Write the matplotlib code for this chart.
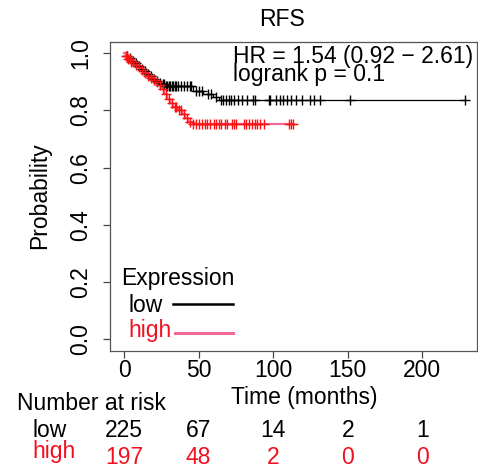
import matplotlib
matplotlib.use("Agg")
import matplotlib.pyplot as plt
import numpy as np
from matplotlib.lines import Line2D
from matplotlib.transforms import blended_transform_factory

plt.rcParams["font.family"] = ["Liberation Sans", "DejaVu Sans"]

# Kaplan-Meier steps
low_times = [0, 1, 3, 5, 7, 9, 11, 13, 15, 17, 19, 21, 23, 25, 28, 46, 53, 60, 64]
low_surv = [1.0, 0.991, 0.982, 0.973, 0.964, 0.955, 0.946, 0.937, 0.928, 0.919,
            0.910, 0.902, 0.897, 0.892, 0.884, 0.867, 0.856, 0.846, 0.835]
low_end = 228.7

high_times = [0, 1, 3, 5, 7, 9, 11, 13, 15, 17, 19, 21, 23, 25, 27, 29, 31, 33,
              36, 39, 41, 43, 46]
high_surv = [1.0, 0.990, 0.980, 0.970, 0.960, 0.950, 0.940, 0.930, 0.920, 0.912,
             0.905, 0.898, 0.890, 0.875, 0.856, 0.840, 0.826, 0.812, 0.800, 0.786,
             0.772, 0.761, 0.752]
high_end = 113.5

low_cens = [2, 4, 6, 8, 10, 12, 14, 16, 18, 20, 22, 24, 26, 27, 28, 29, 30, 31,
            32, 33, 34, 35, 36, 38, 40, 42, 44, 45, 48, 50, 52, 56, 58, 62, 64.7,
            66.5, 68.3, 70.1, 71.9, 73.6, 76.6, 78.8, 82.6, 86.6, 88.1, 97.1, 98.2,
            101.6, 104.4, 106.7, 109.4, 112.1, 115, 119.4, 125, 127.2, 131.6,
            151.7, 228.7]
high_cens = [1, 2, 3, 4, 5, 6, 8, 10, 12, 14, 16, 18, 20, 22, 24, 26, 28, 30, 32,
             34, 35, 37, 38, 40, 42, 44, 46, 48, 50, 52.5, 54, 55.8, 57.6, 60.2,
             62, 63.6, 65.2, 67.4, 69.2, 72.6, 73.6, 75.4, 80.3, 82.1, 83.7, 85.9,
             87.5, 89.3, 91.5, 93.7, 110.4, 112, 113.5]

risk_times = [0, 50, 100, 150, 200]
risk_low = [225, 67, 14, 2, 1]
risk_high = [197, 48, 2, 0, 0]

hr_text = "HR = 1.54 (0.92 \u2212 2.61)"
p_text = "logrank p = 0.1"

LOW_COL = "black"
HIGH_LINE = "#EE6A9A"
HIGH_MARK = "#FF1010"
RED_TXT = "#F01020"
FS = 16.5

W, H = 478, 472
fig = plt.figure(figsize=(W / 100, H / 100), dpi=100)
ax = fig.add_axes([110 / W, 1 - 350.7 / H, 367 / W, 309 / H])


def fy(py):
    return 1 - py / H


def fx(px):
    return px / W


def km(ax, times, surv, end, cens, line_col, mark_col, lw):
    t = np.array(times + [end], dtype=float)
    s = np.array(surv + [surv[-1]], dtype=float)
    ax.step(t, s, where="post", color=line_col, lw=lw, zorder=2)
    c = np.array(cens, dtype=float)
    idx = np.searchsorted(np.array(times, dtype=float), c, side="right") - 1
    ax.plot(c, np.array(surv)[idx], ls="none", marker="+", ms=7, mew=1.0,
            color=mark_col, zorder=3)


km(ax, low_times, low_surv, low_end, low_cens, LOW_COL, LOW_COL, 0.9)
km(ax, high_times, high_surv, high_end, high_cens, HIGH_LINE, HIGH_MARK, 1.6)

ax.set_xlim(-9.4, 236.7)
ax.set_ylim(-0.04, 1.04)
ax.set_xticks([0, 50, 100, 150, 200])
ax.set_yticks([0.0, 0.2, 0.4, 0.6, 0.8, 1.0])
ax.set_yticklabels(["0.0", "0.2", "0.4", "0.6", "0.8", "1.0"])
ax.tick_params(axis="both", direction="out", length=5, width=0.9,
               color="#444444", labelsize=FS)
ax.tick_params(axis="x", pad=1)
ax.tick_params(axis="y", pad=8, labelrotation=90)
for tl in ax.get_yticklabels():
    tl.set_va("center")
for sp in ax.spines.values():
    sp.set_color("#555555")
    sp.set_linewidth(0.9)

# title and axis labels
fig.text(fx(282), fy(20), "RFS", ha="center", va="center", fontsize=FS)
fig.text(fx(40), fy(196), "Probability", ha="center", va="center",
         rotation=90, fontsize=FS)
fig.text(fx(304), fy(404), "Time (months)", ha="center", va="baseline",
         fontsize=FS)

# HR / logrank annotation (one block, tight line spacing as in the original)
fig.text(fx(233), fy(81), hr_text + "\n" + p_text, ha="left", va="baseline",
         fontsize=FS, linespacing=0.72)

# legend
fig.text(fx(121), fy(285), "Expression", ha="left", va="baseline", fontsize=FS)
fig.text(fx(128), fy(311.5), "low", ha="left", va="baseline", fontsize=FS)
fig.text(fx(128), fy(337), "high", ha="left", va="baseline", fontsize=FS,
         color=RED_TXT)
fig.add_artist(Line2D([fx(173), fx(233)], [fy(304.3), fy(304.3)],
                      color=LOW_COL, lw=1.8))
fig.add_artist(Line2D([fx(175), fx(233)], [fy(333.3), fy(333.3)],
                      color=HIGH_LINE, lw=2.2))

# number at risk table
fig.text(fx(17), fy(410.5), "Number at risk", ha="left", va="baseline",
         fontsize=FS)
fig.text(fx(32), fy(437), "low", ha="left", va="baseline", fontsize=FS)
fig.text(fx(32), fy(458), "high", ha="left", va="baseline", fontsize=FS,
         color=RED_TXT)
trans = blended_transform_factory(ax.transData, fig.transFigure)
for t, n_lo, n_hi in zip(risk_times, risk_low, risk_high):
    fig.text(t, fy(437), str(n_lo), ha="center", va="baseline", fontsize=FS,
             transform=trans)
    fig.text(t, fy(464), str(n_hi), ha="center", va="baseline", fontsize=FS,
             color=RED_TXT, transform=trans)

fig.savefig("out.png", dpi=100)
